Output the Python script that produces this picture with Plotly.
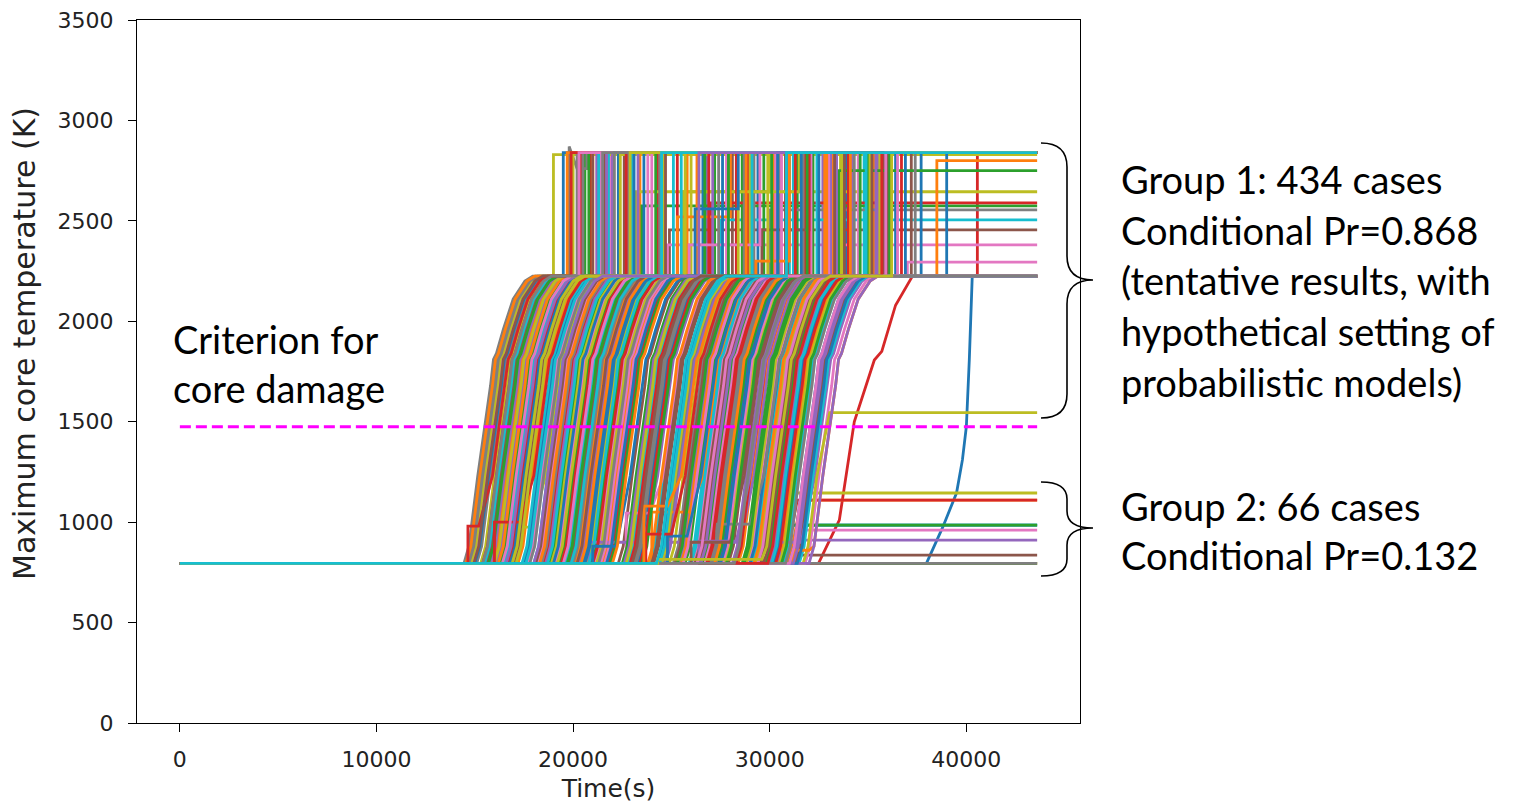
import plotly.graph_objects as go

# ---------------- data ----------------
END_TIME = 43600          # s, end of every simulated case
BASE_K = 795              # K, initial maximum core temperature
PLATEAU_K = 2225          # K, first plateau reached by damaged cores
CRITERION_T = [0, 43600]
CRITERION_K = [1475, 1475]

# typical heat-up curve (read off the earliest grey case), relative to onset
RISE_DT = [0, 250, 700, 1350, 1500, 1650, 2000, 2500, 3100, 3500]
RISE_K = [795, 880, 1230, 1680, 1810, 1840, 1960, 2110, 2200, 2225]

# group 1 cases: onset of heat-up, time of jump from plateau, level after the jump
G1_ONSET = [
    20300, 15600, 14900, 14450, 15300, 22800, 27400, 17200, 16300, 18500,
    25400, 19800, 21100, 14600, 17900, 29100, 23300, 15900, 18800, 16700,
    28100, 22300, 26100, 15100, 20700, 23900, 17500, 30400, 19300, 21800,
    16100, 27900, 18200, 24600, 14800, 19600, 28700, 21500, 25700, 15400,
    30000, 17000, 23900, 25100, 18900, 16500, 31000, 20100, 26600, 23000,
    15800, 29500, 17700, 27100, 21200, 18000, 24300, 28400, 20900, 26900,
    23600, 31300, 19100, 16900, 27700, 25900, 15000, 25900, 29800, 19400,
    28500, 21700, 28900, 18400, 24900, 30700, 20500, 16200, 27300, 22900,
    31600, 24100, 26700, 20000, 29300, 17400, 30200, 25500, 22500, 28300,
    31100, 26400, 31800, 23100, 31700, 31500, 29000, 32000, 28600, 27500,
    32000, 25200, 21400, 14700, 16000, 17600, 19000, 20400, 21900, 23400,
    24700, 26200, 27600, 29000, 30500, 15500, 16800, 18300, 19700, 21000,
    22600, 24000, 25600, 27000, 28800, 30100, 31400, 14550, 15700, 17300,
    18600, 20200, 21600, 23200, 24500, 26000, 27500, 29200, 30600, 15200,
    16600, 18100, 19500, 21300, 22700, 24400, 25800, 27200, 28700, 30300,
    31200, 14950, 16400, 17800, 19200, 20800, 22200, 23800, 25300, 26800,
    28300, 29700, 31000, 15400, 17100, 18700, 20600, 22000, 23500, 25000,
    26500, 28000, 29400, 30800, 16900, 19900, 21700, 24800, 27800, 29900,
    18000, 23000, 26300, 28200, 29600, 24240,
]
G1_JUMP = [
    26800, 22600, 21900, None, 19000, 31000, 33900, 23400, 20600, 24300,
    None, 24900, 24800, 19800, 23200, 34800, 29400, None, 23500, 20900,
    32700, 28100, None, 20200, 25600, 27500, 22300, 35300, 28600, 27000,
    21200, None, 23800, 30500, 20000, 25100, None, 26300, 31400, 20400,
    34200, 21600, 27800, 30000, 24600, None, 36400, 25800, 32200, 28900,
    22000, 35800, 21400, None, 26000, 23000, None, 33200, 29700, 31800,
    None, 37200, 24000, 22800, 33600, 32400, 19500, 30200, None, 25300,
    33100, None, 34500, 24400, 29000, None, 26600, 21000, 35000, None,
    35500, 30800, 33000, 29200, 35600, None, 37700, 32900, 27200, 36700,
    None, None, 37000, 31700, None, None, 39000, 38500, 33500, 34000,
    None, 36000, 30300, 20500, 22400, 21800, 23100, 25300, 26700, 28300,
    None, 30900, 32100, 34300, 35100, 21300, 23600, None, 24200, 26900,
    27100, 29600, 30600, None, 33700, 34900, 36900, 19700, 20800, 22700,
    23300, None, 25900, 28700, 29900, 31200, 32500, None, 36100, 19900,
    21700, 24700, None, 27400, 28400, 29100, 31600, 32800, 34600, None,
    35400, 21000, 20300, 22100, None, 25500, 27600, 29300, 30100, 32000,
    33400, 35200, None, 21500, 22900, None, 26200, 28800, 27900, 31300,
    None, 33800, 36500, 37400, 25700, 24500, 30400, 34100, 31900, 35700,
    26400, 33300, 35900, None, 36200, 30850,
]
G1_FINAL = [
    2840, 2840, 2840, 2225, 2830, 2840, 2840, 2840, 2840, 2840,
    2225, 2455, 2380, 2760, 2645, 2840, 2840, 2225, 2575, 2840,
    2840, 2840, 2225, 2840, 2645, 2505, 2840, 2840, 2840, 2590,
    2840, 2225, 2840, 2840, 2840, 2840, 2225, 2840, 2840, 2840,
    2840, 2840, 2840, 2555, 2840, 2225, 2840, 2840, 2840, 2840,
    2840, 2840, 2840, 2225, 2840, 2840, 2225, 2840, 2840, 2840,
    2225, 2840, 2840, 2840, 2840, 2840, 2840, 2840, 2225, 2840,
    2840, 2225, 2840, 2840, 2840, 2225, 2840, 2840, 2840, 2225,
    2840, 2840, 2840, 2840, 2840, 2225, 2840, 2840, 2840, 2840,
    2225, 2225, 2295, 2840, 1545, 2225, 2840, 2800, 2750, 2840,
    2225, 2840, 2840, 2840, 2840, 2840, 2840, 2520, 2840, 2840,
    2225, 2840, 2840, 2840, 2840, 2840, 2840, 2225, 2840, 2840,
    2840, 2455, 2840, 2225, 2840, 2840, 2840, 2840, 2840, 2840,
    2840, 2225, 2380, 2840, 2840, 2840, 2840, 2225, 2840, 2840,
    2840, 2840, 2225, 2840, 2645, 2840, 2840, 2840, 2840, 2225,
    2840, 2840, 2840, 2840, 2225, 2840, 2840, 2300, 2840, 2840,
    2840, 2840, 2225, 2840, 2840, 2225, 2560, 2840, 2840, 2840,
    2225, 2840, 2840, 2840, 2840, 2840, 2840, 2840, 2840, 2840,
    2840, 2840, 2840, 2225, 2840, 2840,
]
# later second jump for cases that first stop at an intermediate level
STEP2_TIME = {13: 20700, 24: 30000, 107: 28000, 121: 32000, 132: 29500, 144: 31500, 157: 31000, 166: 28400}
STEP2_K = {13: 2840, 24: 2840, 107: 2840, 121: 2840, 132: 2840, 144: 2840, 157: 2840, 166: 2840}
# overshoot seen on the grey case near 20000 s
OVERSHOOT_K = {13: 2870}
# small temperature steps some cases take before their heat-up
PRE_STEP_TIME = {14: 17100, 42: 22700, 60: 20800, 67: 24000, 70: 24800, 80: 30500, 97: 31200,
                 113: 27300, 129: 16000, 139: 14650, 146: 24800, 156: 21000, 160: 26400,
                 169: 23700, 171: 26000, 177: 23600, 184: 24300}
PRE_STEP_K = {14: 975, 42: 1045, 60: 900, 67: 1050, 70: 900, 80: 900, 97: 860,
              113: 990, 129: 1000, 139: 980, 146: 930, 156: 880, 160: 905,
              169: 940, 171: 900, 177: 1080, 184: 815}

# group 2 cases: onset and the low level where they stay
G2_ONSET = [0, 0, 30800, 29600, 30800, 0, 30300, 29200, 29100, 30900, 29000, 30700]
G2_LEVEL = [795, 795, 910, 836, 960, 795, 1145, 985, 985, 1110, 985, 1110]

# two slow late cases read point by point
LATE_BLUE_T = [0, 37970, 38800, 39500, 39800, 40000, 40150, 40300, 43600]
LATE_BLUE_K = [795, 795, 975, 1145, 1310, 1475, 1807, 2225, 2225]
SLOW_RED_T = [0, 32480, 33540, 34300, 35320, 35700, 36400, 37260, 40560, 40560, 43600]
SLOW_RED_K = [795, 795, 1010, 1500, 1807, 1850, 2080, 2225, 2225, 2840, 2840]

TAB10 = ['#1f77b4', '#ff7f0e', '#2ca02c', '#d62728', '#9467bd',
         '#8c564b', '#e377c2', '#7f7f7f', '#bcbd22', '#17becf']


def build(onset, final, jump=None, pre_t=None, pre_k=None, t2=None, k2=None, over=None):
    if final <= BASE_K:
        return [0, END_TIME], [BASE_K, BASE_K]
    xs, ys = [0], [BASE_K]
    start_k = BASE_K
    if pre_t is not None:
        xs += [pre_t, pre_t]
        ys += [BASE_K, pre_k]
        start_k = pre_k
    xs.append(onset)
    ys.append(start_k)
    cap = final if (jump is None and final < PLATEAU_K) else PLATEAU_K
    for dt, k in zip(RISE_DT[1:], RISE_K[1:]):
        if k <= start_k:
            continue
        if k >= cap:
            xs.append(onset + dt)
            ys.append(cap)
            break
        xs.append(onset + dt)
        ys.append(k)
    if jump is not None:
        xs += [jump]
        ys += [cap]
        if over is not None:
            xs += [jump, jump + 400]
            ys += [over, final]
        else:
            xs += [jump]
            ys += [final]
    if t2 is not None:
        xs += [t2, t2]
        ys += [ys[-1], k2]
    xs.append(END_TIME)
    ys.append(ys[-1])
    return xs, ys


g2 = [build(o, l) for o, l in zip(G2_ONSET, G2_LEVEL)]
g1 = [build(G1_ONSET[i], G1_FINAL[i], G1_JUMP[i], PRE_STEP_TIME.get(i), PRE_STEP_K.get(i),
            STEP2_TIME.get(i), STEP2_K.get(i), OVERSHOOT_K.get(i))
      for i in range(len(G1_ONSET))]

# drawing order as in the original (colour cycle follows case index)
ordered = [(LATE_BLUE_T, LATE_BLUE_K), g2[0], g2[1], (SLOW_RED_T, SLOW_RED_K)] + g2[2:] + g1

fig = go.Figure()
for i, (xs, ys) in enumerate(ordered):
    fig.add_trace(go.Scatter(x=xs, y=ys, mode='lines',
                             line=dict(color=TAB10[i % 10], width=2.8),
                             showlegend=False, hoverinfo='skip'))

fig.add_trace(go.Scatter(x=CRITERION_T, y=CRITERION_K, mode='lines',
                         line=dict(color='#ff00ff', width=3, dash='11px,5px'),
                         showlegend=False, hoverinfo='skip'))

# ---------------- layout ----------------
L, R, T, B = 137, 1080, 20, 723   # plot area on the page, pixels
OFF = 8                            # page body margin
W, H = 1521, 808


def px(x):
    return (x - L) / (R - L)


def py(y):
    return (B - y) / (B - T)


def brace(x0, xm, xt, y0, yt, y1, r):
    pts = [
        ('M', [(x0, y0)]),
        ('Q', [(xm, y0), (xm, y0 + r)]),
        ('L', [(xm, yt - r)]),
        ('Q', [(xm, yt), (xt, yt)]),
        ('Q', [(xm, yt), (xm, yt + r)]),
        ('L', [(xm, y1 - r)]),
        ('Q', [(xm, y1), (x0, y1)]),
    ]
    s = ''
    for cmd, pp in pts:
        s += cmd + ' ' + ' '.join('%.5f,%.5f' % (px(a), py(b)) for a, b in pp) + ' '
    return s.strip()


shapes = [
    dict(type='path', xref='paper', yref='paper', layer='above',
         path=brace(1041, 1067, 1093, 143, 280, 418, 24),
         line=dict(color='black', width=1.6)),
    dict(type='path', xref='paper', yref='paper', layer='above',
         path=brace(1041, 1067, 1093, 482, 528, 576, 17),
         line=dict(color='black', width=1.6)),
]

TEXT_FONT = dict(family='Lato, Open Sans, sans-serif', size=38, color='black')
annotations = []
g1_lines = ['Group 1: 434 cases', 'Conditional Pr=0.868', '(tentative results, with',
            'hypothetical setting of', 'probabilistic models)']
for txt, yy in zip(g1_lines, [179, 230, 280, 331, 382]):
    annotations.append(dict(text=txt, xref='paper', yref='paper', x=px(1119), y=py(yy),
                            xanchor='left', yanchor='middle', showarrow=False, font=TEXT_FONT))
for txt, yy in zip(['Group 2: 66 cases', 'Conditional Pr=0.132'], [506, 555]):
    annotations.append(dict(text=txt, xref='paper', yref='paper', x=px(1119), y=py(yy),
                            xanchor='left', yanchor='middle', showarrow=False, font=TEXT_FONT))
for txt, yy in zip(['Criterion for', 'core damage'], [339, 388]):
    annotations.append(dict(text=txt, xref='paper', yref='paper', x=px(171), y=py(yy),
                            xanchor='left', yanchor='middle', showarrow=False, font=TEXT_FONT))
# y-axis title (placed like in the reference, slightly above the axis centre)
annotations.append(dict(text='Maximum core temperature (K)', xref='paper', yref='paper',
                        x=px(24), y=py(344), textangle=-90, xanchor='center', yanchor='middle',
                        showarrow=False,
                        font=dict(family='DejaVu Sans, sans-serif', size=30, color='#222222')))

AX_FONT = dict(family='DejaVu Sans, sans-serif', size=22, color='#222222')
fig.update_layout(
    width=W, height=H,
    margin=dict(l=L - OFF, r=W - R + OFF, t=T - OFF, b=H - B + OFF),
    paper_bgcolor='white', plot_bgcolor='white',
    shapes=shapes, annotations=annotations,
    xaxis=dict(range=[-2180, 45780], tickvals=[0, 10000, 20000, 30000, 40000],
               tickformat='d', showgrid=False, zeroline=False, automargin=False,
               showline=True, mirror=True, linecolor='black', linewidth=1.3,
               ticks='outside', ticklen=8, tickcolor='black', tickwidth=1.3,
               tickfont=AX_FONT, ticklabelstandoff=8, ticklabeloverflow='allow',
               title=dict(text='Time(s)', font=dict(family='DejaVu Sans, sans-serif', size=25, color='#222222'),
                          standoff=8)),
    yaxis=dict(range=[0, 3500], tickvals=[0, 500, 1000, 1500, 2000, 2500, 3000, 3500],
               tickformat='d', showgrid=False, zeroline=False, automargin=False,
               showline=True, mirror=True, linecolor='black', linewidth=1.3,
               ticks='outside', ticklen=8, tickcolor='black', tickwidth=1.3,
               tickfont=AX_FONT, ticklabelstandoff=10, ticklabeloverflow='allow'),
)

fig.write_html('out.html')
